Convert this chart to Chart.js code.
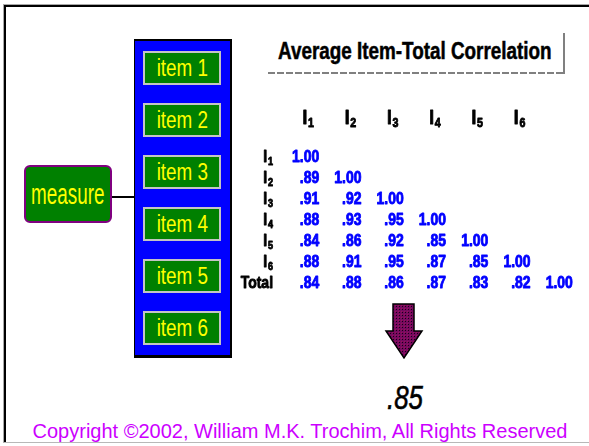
<!DOCTYPE html>
<html>
<head>
<meta charset="utf-8">
<title>Average Item-Total Correlation</title>
<script src="https://cdn.jsdelivr.net/npm/chart.js@4.4.0/dist/chart.umd.min.js"></script>
<style>
  html, body { margin: 0; padding: 0; background: #fff; }
  body {
    width: 589px; height: 446px; position: relative; overflow: hidden;
    font-family: 'Liberation Sans', Arial, sans-serif;
  }
  .abs { position: absolute; }
  /* no narrow face installed: squeeze Liberation Sans instead */
  .narrow { display: inline-block; white-space: nowrap; transform: scaleX(.82); }

  /* window frame */
  .frame {
    left: 3px; top: 4px; width: 620px; height: 437px;
    border-top: 1px solid #a8a8a8; border-left: 1px solid #a8a8a8;
    border-bottom: 1px solid #b8b8b8;
  }
  .frame::before {
    content: ''; position: absolute; left: 0; top: 0; right: 0; bottom: 0;
    border-top: 2px solid #000; border-left: 2px solid #000;
  }

  /* left diagram */
  .panel {
    left: 134px; top: 39px; width: 98px; height: 319px;
    background: #0000ff; box-sizing: border-box;
    border-top: 2px solid #000; border-left: 1px solid #000;
    border-right: 2px solid #000; border-bottom: 3px solid #000;
  }
  .item {
    left: 143px; width: 78px; height: 34px; box-sizing: border-box;
    background: #008000; border: 2px solid #c4c4c4; color: #ffff00;
    font-size: 23px;
    display: flex; align-items: center; justify-content: center;
  }
  .measure {
    left: 24px; top: 165px; width: 88px; height: 58px; box-sizing: border-box;
    background: #008000; border: 2px solid #800080; border-radius: 6px;
    color: #ffff00; font-size: 23px;
    display: flex; align-items: center; justify-content: center;
  }
  .measure span { display: inline-block; transform: scale(.82, 1.25); }
  .link { left: 112px; top: 196px; width: 22px; height: 2px; background: #000; }

  /* title */
  .title {
    left: 278px; top: 40px; line-height: 23px;
    font-weight: bold; font-size: 23px; color: #000;
    -webkit-text-stroke: 0.5px #000;
    transform-origin: 0 0;
  }
  .avg {
    left: 387px; top: 380px; line-height: 34px;
    font-style: italic; font-size: 34px; color: #000;
    -webkit-text-stroke: 0.6px #000;
    transform: scaleX(.76); transform-origin: 0 0;
  }
  .copy {
    left: 0; width: 600px; top: 421px; text-align: center; line-height: 20px;
    font-size: 20px; color: #cc00ff; white-space: nowrap;
  }
  #matrix { left: 230px; top: 96px; }
</style>
</head>
<body>
<div class="abs frame"></div>

<div class="abs panel"></div>
<div id="items"></div>
<div class="abs measure"><span>measure</span></div>
<div class="abs link"></div>

<div class="abs title narrow">Average Item-Total Correlation</div>
<svg class="abs" style="left:0;top:0" width="589" height="446">
  <defs>
    <pattern id="dots" width="3" height="3" patternUnits="userSpaceOnUse">
      <rect width="3" height="3" fill="#760a60"/>
      <rect width="1" height="1" fill="#1a0014"/>
      <rect x="2" y="2" width="1" height="1" fill="#a01058"/>
    </pattern>
  </defs>
  <line x1="268" y1="73" x2="564" y2="73" stroke="#808080" stroke-width="2" stroke-dasharray="7 2"/>
  <line x1="564" y1="33" x2="564" y2="74" stroke="#808080" stroke-width="2"/>
  <path d="M393,304 L414,304 L414,331 L422,331 L404,358 L386,331 L393,331 Z"
        fill="url(#dots)" stroke="#000" stroke-width="1.5"/>
</svg>

<canvas id="matrix" class="abs" width="359" height="200"></canvas>

<div class="abs avg" id="avg"></div>
<div class="abs copy">Copyright ©2002, William M.K. Trochim, All Rights Reserved</div>

<script>
/* ── data ─────────────────────────────────────── */

const itemLabels = ['item 1', 'item 2', 'item 3', 'item 4', 'item 5', 'item 6'];

const colLabels = ['I₁', 'I₂', 'I₃', 'I₄', 'I₅', 'I₆', ''];
const rowLabels = ['I₁', 'I₂', 'I₃', 'I₄', 'I₅', 'I₆', 'Total'];

const corrI1    = [1.00];
const corrI2    = [.89, 1.00];
const corrI3    = [.91, .92, 1.00];
const corrI4    = [.88, .93, .95, 1.00];
const corrI5    = [.84, .86, .92, .85, 1.00];
const corrI6    = [.88, .91, .95, .87, .85, 1.00];
const corrTotal = [.84, .88, .86, .87, .83, .82, 1.00];

const avgItemTotal = .85;

/* ── helpers ──────────────────────────────────── */

const FONT = "'Liberation Sans', Arial, sans-serif";
const SQUEEZE = 0.82;   // fake "Arial Narrow"
const SUBS = '₀₁₂₃₄₅₆₇₈₉';

function fmt(v) {
  // 1.00 stays, .89 loses its leading zero
  return v >= 1 ? v.toFixed(2) : v.toFixed(2).replace(/^0/, '');
}

// narrow heavy text, with subscript digits drawn small and low
function drawNarrow(ctx, text, x, y, size, align, color) {
  let main = '', sub = '';
  for (const ch of text) {
    const k = SUBS.indexOf(ch);
    if (k >= 0) sub += k; else main += ch;
  }
  const subSize = Math.round(size * 0.62);
  ctx.save();
  ctx.fillStyle = color;
  ctx.strokeStyle = color;
  ctx.lineWidth = 0.9;
  ctx.lineJoin = 'round';
  ctx.textBaseline = 'alphabetic';
  ctx.textAlign = 'left';
  ctx.font = `bold ${size}px ${FONT}`;
  const wMain = ctx.measureText(main).width;
  ctx.font = `bold ${subSize}px ${FONT}`;
  const wSub = sub ? ctx.measureText(sub).width + 1 : 0;
  const w = (wMain + wSub) * SQUEEZE;
  const x0 = align === 'right' ? x - w : align === 'center' ? x - w / 2 : x;
  ctx.translate(x0, y);
  ctx.scale(SQUEEZE, 1);
  ctx.font = `bold ${size}px ${FONT}`;
  ctx.fillText(main, 0, 0);
  ctx.strokeText(main, 0, 0);
  if (sub) {
    ctx.font = `bold ${subSize}px ${FONT}`;
    ctx.fillText(sub, wMain + 1, 3);
    ctx.strokeText(sub, wMain + 1, 3);
  }
  ctx.restore();
}

/* ── left diagram ─────────────────────────────── */

const itemsBox = document.getElementById('items');
itemLabels.forEach((lbl, i) => {
  const d = document.createElement('div');
  d.className = 'abs item';
  d.style.top = (51 + i * 52) + 'px';
  d.innerHTML = `<span class="narrow">${lbl}</span>`;
  itemsBox.appendChild(d);
});

document.getElementById('avg').textContent = fmt(avgItemTotal);

/* ── correlation matrix (Chart.js) ────────────── */

const corrRows = [corrI1, corrI2, corrI3, corrI4, corrI5, corrI6, corrTotal];
const cells = [];
corrRows.forEach((row, r) => {
  row.forEach((v, c) => cells.push({ x: colLabels[c], y: rowLabels[r], v }));
});

const matrixText = {
  id: 'matrixText',
  afterDraw(chart) {
    const ctx = chart.ctx;
    const { x: xs, y: ys } = chart.scales;

    // column headers, on the top axis
    xs.ticks.forEach((t, i) => {
      drawNarrow(ctx, xs.getLabelForValue(t.value), xs.getPixelForTick(i) - 1,
                 xs.bottom - 21, 21, 'center', '#000');
    });
    // row labels, on the left axis
    ys.ticks.forEach((t, i) => {
      drawNarrow(ctx, ys.getLabelForValue(t.value), ys.right - 15,
                 ys.getPixelForTick(i) + 6, 17, 'right', '#000');
    });
    // correlation values at each point
    chart.getDatasetMeta(0).data.forEach((pt, i) => {
      drawNarrow(ctx, fmt(cells[i].v), pt.x + 10, pt.y + 6, 17, 'right', '#0000ff');
    });
  }
};

new Chart(document.getElementById('matrix'), {
  type: 'scatter',
  data: {
    datasets: [{
      data: cells,
      pointRadius: 0,
      pointHoverRadius: 0
    }]
  },
  options: {
    responsive: false,
    animation: false,
    events: [],
    layout: { padding: { left: 0, top: 0, right: 5, bottom: 3 } },
    plugins: { legend: { display: false }, tooltip: { enabled: false } },
    scales: {
      x: {
        type: 'category',
        labels: colLabels,
        position: 'top',
        offset: true,
        grid: { display: false, drawTicks: false },
        border: { display: false },
        ticks: { display: false, autoSkip: false },
        afterFit(s) { s.height = 49; s.paddingLeft = 0; s.paddingRight = 0; }
      },
      y: {
        type: 'category',
        labels: rowLabels,
        offset: true,
        grid: { display: false, drawTicks: false },
        border: { display: false },
        ticks: { display: false, autoSkip: false },
        afterFit(s) { s.width = 58; s.paddingTop = 0; s.paddingBottom = 0; }
      }
    }
  },
  plugins: [matrixText]
});
</script>
</body>
</html>
